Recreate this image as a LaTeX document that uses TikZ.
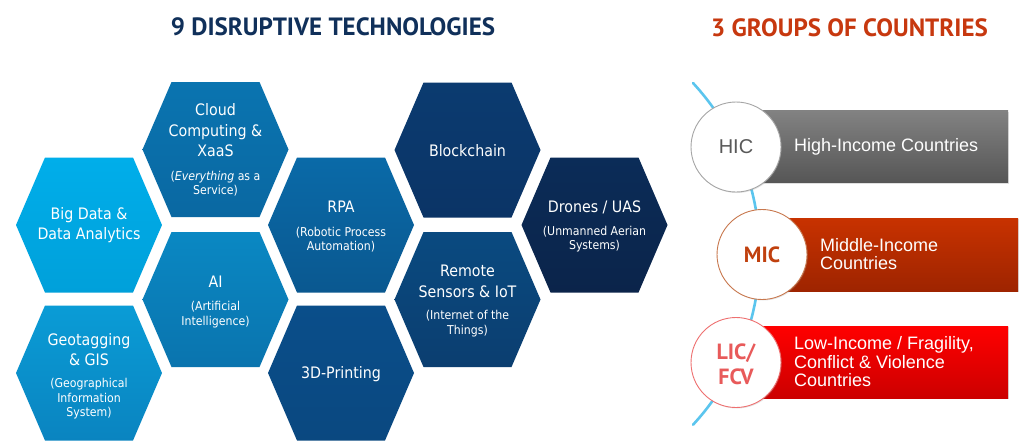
\documentclass[tikz,border=0pt]{standalone}
\usepackage{fontspec}
\usetikzlibrary{shadows}
\newfontfamily\titlefont{PT Sans}
\newfontfamily\hexfont{DejaVu Sans Condensed}
\newfontfamily\arialfont{Liberation Sans}
\definecolor{navytitle}{HTML}{10305A}
\definecolor{redtitle}{HTML}{C7380F}
\definecolor{arcblue}{HTML}{5BC5EE}
\definecolor{hAt}{HTML}{00AEEA}\definecolor{hAb}{HTML}{00A0DA}
\definecolor{hBt}{HTML}{0A9CD6}\definecolor{hBb}{HTML}{0A84C0}
\definecolor{hCt}{HTML}{0A74B0}\definecolor{hCb}{HTML}{0A68A2}
\definecolor{hDt}{HTML}{0A88C3}\definecolor{hDb}{HTML}{0A74AE}
\definecolor{hEt}{HTML}{0A6AA8}\definecolor{hEb}{HTML}{0A5890}
\definecolor{hFt}{HTML}{0A4E8A}\definecolor{hFb}{HTML}{0A4880}
\definecolor{hGt}{HTML}{0B3B70}\definecolor{hGb}{HTML}{0B3466}
\definecolor{hHt}{HTML}{0A4A80}\definecolor{hHb}{HTML}{0B3E70}
\definecolor{hIt}{HTML}{0B2C58}\definecolor{hIb}{HTML}{0B244A}
\definecolor{grayT}{HTML}{828282}\definecolor{grayB}{HTML}{565656}
\definecolor{orT}{HTML}{C83200}\definecolor{orB}{HTML}{9E2400}
\definecolor{rdT}{HTML}{FF0000}\definecolor{rdB}{HTML}{CC0000}
\definecolor{ringgray}{HTML}{A5A5A5}
\definecolor{ringor}{HTML}{C8784E}
\definecolor{ringrd}{HTML}{EE7070}
\definecolor{hictxt}{HTML}{595959}
\definecolor{mictxt}{HTML}{C0400E}
\definecolor{lictxt}{HTML}{E85A5A}
\tikzset{
  hexmain/.style={text=white, font=\hexfont\fontsize{15.8}{20.5}\selectfont, align=center, inner sep=0pt},
  hexsub/.style={text=white, font=\hexfont\fontsize{12.2}{14.5}\selectfont, align=center, inner sep=0pt},
  ctitle/.style={font=\titlefont\bfseries\fontsize{25}{28}\selectfont, inner sep=0pt},
  bar/.style={draw=none, minimum width=248pt, minimum height=72pt, inner sep=0pt,
    drop shadow={opacity=0.25, shadow xshift=1.2pt, shadow yshift=-1.2pt}},
  ring/.style={circle, fill=white, line width=0.9pt, minimum size=90pt, inner sep=0pt,
    drop shadow={opacity=0.2, shadow xshift=1pt, shadow yshift=-1pt}},
  bartext/.style={text=white, font=\arialfont\fontsize{18}{18.5}\selectfont, align=left, anchor=west, inner sep=0pt},
  ringtext/.style={font=\titlefont\bfseries\fontsize{22}{25}\selectfont, align=center, inner sep=0pt}
}
\newcommand{\hexshape}[4]{% cx cy topcolor bottomcolor
  \shade[top color=#3, bottom color=#4]
    (#1-73,#2) -- (#1-44,#2-67.5) -- (#1+44,#2-67.5) -- (#1+73,#2) -- (#1+44,#2+67.5) -- (#1-44,#2+67.5) -- cycle;}
\begin{document}
\begin{tikzpicture}[x=1pt,y=-1pt]
\useasboundingbox (0,0) rectangle (1024,440);
\fill[white] (0,0) rectangle (1024,440);

% titles
\node[ctitle, text=navytitle] (t1) at (333,27) {9 DISRUPTIVE TECHNOLOGIES};
\node[ctitle, text=redtitle] (t2) at (849.5,27.5) {3 GROUPS OF COUNTRIES};

% hexagons
\hexshape{89}{225}{hAt}{hAb}
\hexshape{89}{373}{hBt}{hBb}
\hexshape{215.5}{149.5}{hCt}{hCb}
\hexshape{215.5}{299.5}{hDt}{hDb}
\hexshape{341}{225}{hEt}{hEb}
\hexshape{341}{373}{hFt}{hFb}
\hexshape{467.5}{150}{hGt}{hGb}
\hexshape{467.5}{299.5}{hHt}{hHb}
\hexshape{594.5}{225}{hIt}{hIb}

% hex texts
\node[hexmain] (bigdata) at (89,225) {Big Data \&\\Data Analytics};
\node[hexmain] (geo) at (89,349.5) {Geotagging\\\& GIS};
\node[hexsub] (geosub) at (89,399) {(Geographical\\Information\\System)};
\node[hexmain] (cloud) at (215.5,130.5) {Cloud\\Computing \&\\XaaS};
\node[hexsub] (cloudsub) at (215.5,183.5) {(\textit{Everything} as a\\Service)};
\node[hexmain] (ai) at (215.5,282) {AI};
\node[hexsub] (aisub) at (215.5,314.5) {(Artificial\\Intelligence)};
\node[hexmain] (rpa) at (341,207) {RPA};
\node[hexsub] (rpasub) at (341,239.5) {(Robotic Process\\Automation)};
\node[hexmain] (print) at (341,374) {3D-Printing};
\node[hexmain] (block) at (467.5,151) {Blockchain};
\node[hexmain] (remote) at (467.5,281.5) {Remote\\Sensors \& IoT};
\node[hexsub] (remotesub) at (467.5,323.5) {(Internet of the\\Things)};
\node[hexmain] (drones) at (594.5,207) {Drones / UAS};
\node[hexsub] (dronessub) at (594.5,239) {(Unmanned Aerian\\Systems)};

% arc
\coordinate (arcT) at (693,83);
\draw[arcblue, line width=2.6pt, line cap=round] (arcT) arc[start angle=-42.7, end angle=42.7, radius=252];

% bars
\node[bar, top color=grayT, bottom color=grayB] (hicbar) at (884,146.5) {};
\node[bar, top color=orT, bottom color=orB, minimum height=73pt] (micbar) at (894,254.5) {};
\node[bar, top color=rdT, bottom color=rdB] (licbar) at (884,362) {};

% circles
\node[ring, draw=ringgray] (hic) at (736,147) {};
\node[ring, draw=ringor] (mic) at (762,254.5) {};
\node[ring, draw=ringrd] (lic) at (736,362.5) {};

\node[font=\arialfont\fontsize{20}{20}\selectfont, text=hictxt, inner sep=0pt] (hict) at (hic) {HIC};
\node[ringtext, text=mictxt] (mict) at (mic) {MIC};
\node[ringtext, text=lictxt] (lict) at (736,364.5) {LIC/\\FCV};

\node[bartext] (hicl) at (794,147) {High-Income Countries};
\node[bartext] (micl) at (820,254) {Middle-Income\\Countries};
\node[bartext] (licl) at (794,362) {Low-Income / Fragility,\\Conflict \& Violence\\Countries};
\end{tikzpicture}
\end{document}
